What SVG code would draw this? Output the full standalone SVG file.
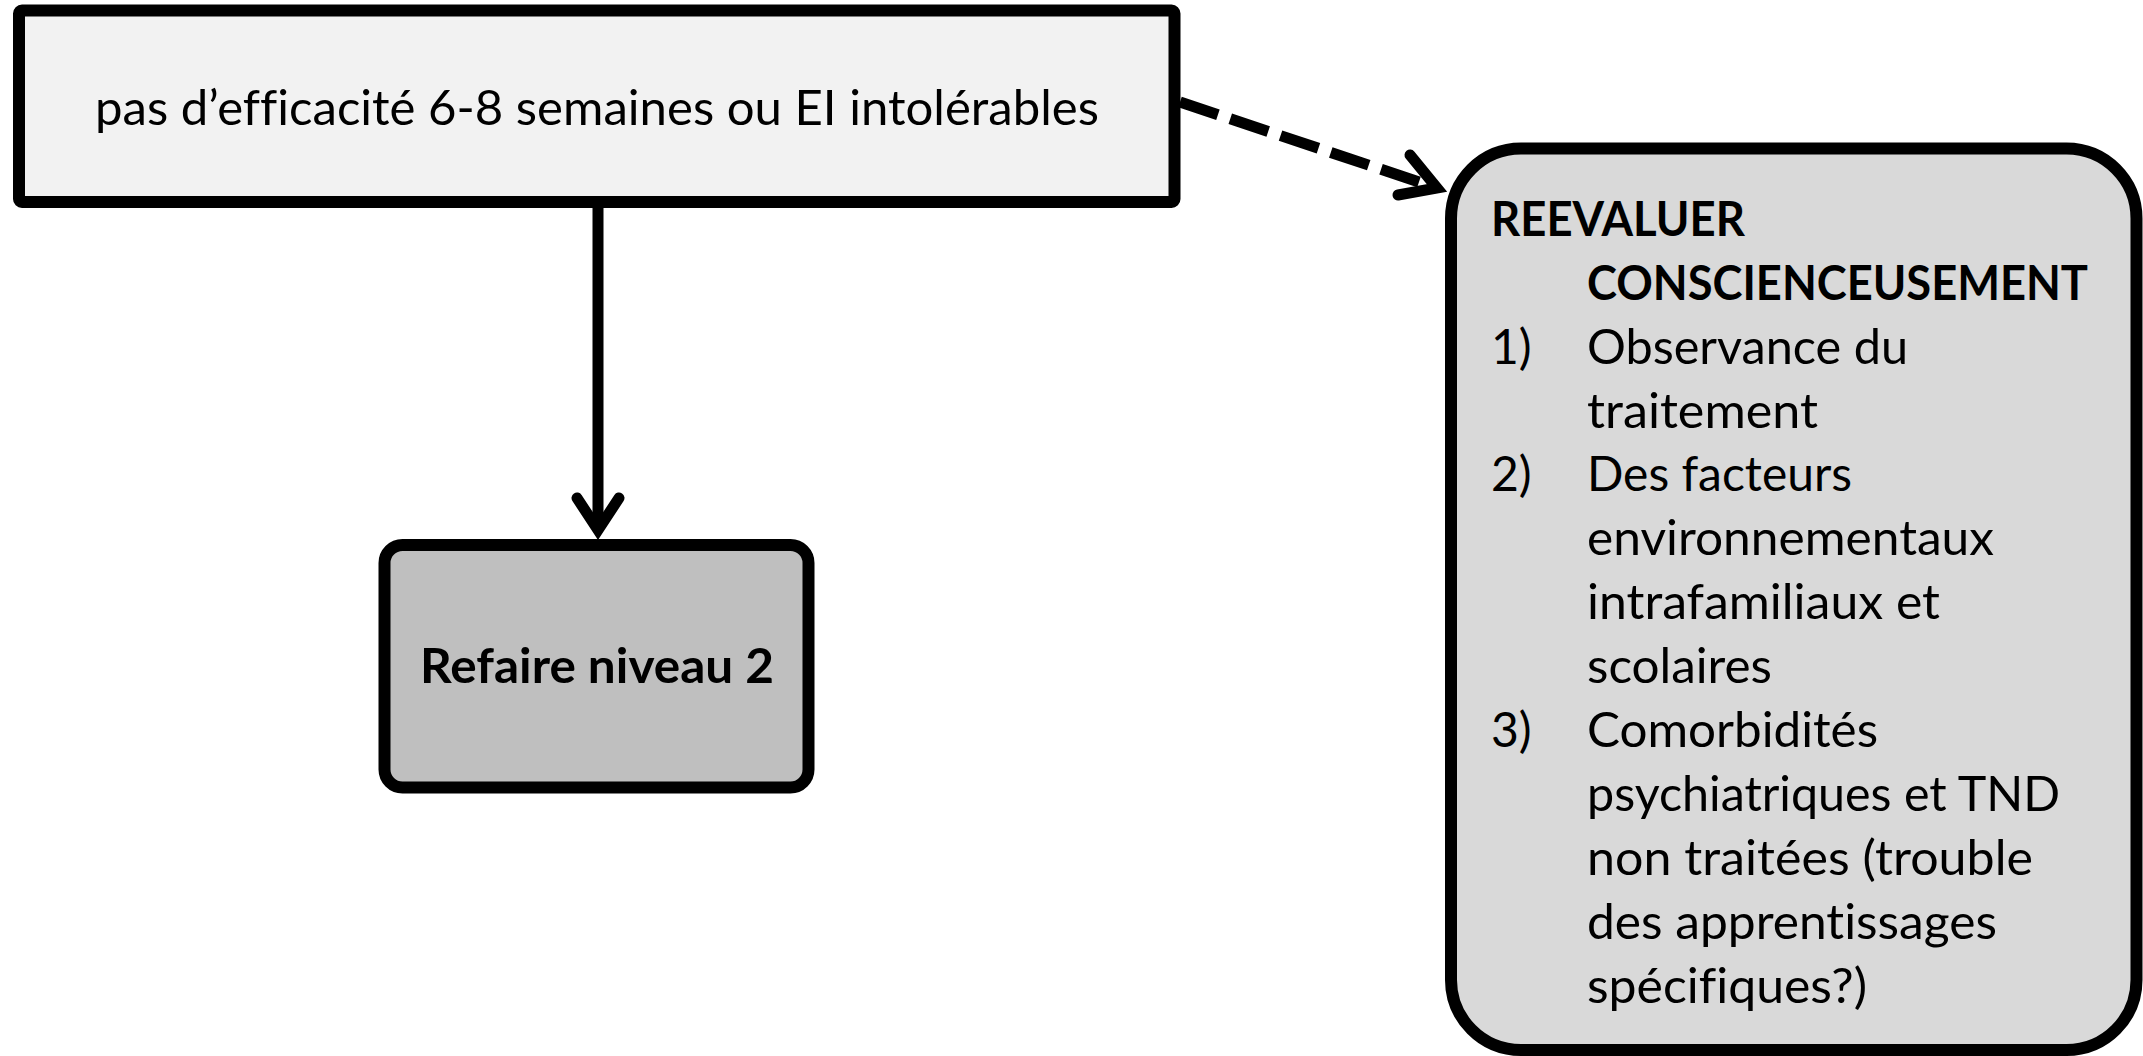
<svg xmlns="http://www.w3.org/2000/svg" width="2143" height="1056" viewBox="0 0 2143 1056">
<style>
.box{stroke:#000;stroke-width:12}
.t{font-family:Lato,"Open Sans","Liberation Sans",sans-serif;font-size:48px;fill:#000;font-variant-ligatures:none;font-feature-settings:"liga" 0,"dlig" 0,"clig" 0}
.b{font-weight:bold}
.c{fill:none;stroke:#000;stroke-width:11}
.h{fill:none;stroke:#000;stroke-width:11;stroke-linecap:round;stroke-linejoin:miter;stroke-miterlimit:10}
</style>
<rect width="2143" height="1056" fill="#fff"/>
<g id="connectors">
<line class="c" x1="598" y1="202" x2="598" y2="530"/>
<polyline class="h" points="577,498 598,530 619,498"/>
<line class="c" x1="1180" y1="102" x2="1437" y2="188" stroke-dasharray="40 13"/>
<polyline class="h" points="1410,155 1437,188 1398,195"/>
</g>
<g id="node-top">
<rect class="box" x="19" y="10.5" width="1155.5" height="191.5" rx="3" fill="#f2f2f2"/>
<text class="t" x="597" y="125" text-anchor="middle" textLength="1004" lengthAdjust="spacingAndGlyphs">pas d’efficacité 6-8 semaines ou EI intolérables</text>
</g>
<g id="node-refaire">
<rect class="box" x="384.5" y="545" width="424" height="242.5" rx="18" fill="#bfbfbf"/>
<text class="t b" x="597" y="683" text-anchor="middle" textLength="354" lengthAdjust="spacingAndGlyphs">Refaire niveau 2</text>
</g>
<g id="node-reevaluer">
<rect class="box" x="1451" y="148.5" width="685.5" height="901.5" rx="70" fill="#d9d9d9"/>
<text class="t b" x="1491" y="236" textLength="254" lengthAdjust="spacingAndGlyphs">REEVALUER</text>
<text class="t b" x="1587" y="300" textLength="501" lengthAdjust="spacingAndGlyphs">CONSCIENCEUSEMENT</text>
<text class="t" x="1491" y="364">1)</text>
<text class="t" x="1587" y="364" textLength="321" lengthAdjust="spacingAndGlyphs">Observance du</text>
<text class="t" x="1587" y="428" textLength="231" lengthAdjust="spacingAndGlyphs">traitement</text>
<text class="t" x="1491" y="491">2)</text>
<text class="t" x="1587" y="491" textLength="265" lengthAdjust="spacingAndGlyphs">Des facteurs</text>
<text class="t" x="1587" y="555" textLength="407" lengthAdjust="spacingAndGlyphs">environnementaux</text>
<text class="t" x="1587" y="619" textLength="353" lengthAdjust="spacingAndGlyphs">intrafamiliaux et</text>
<text class="t" x="1587" y="683" textLength="185" lengthAdjust="spacingAndGlyphs">scolaires</text>
<text class="t" x="1491" y="747">3)</text>
<text class="t" x="1587" y="747" textLength="291" lengthAdjust="spacingAndGlyphs">Comorbidités</text>
<text class="t" x="1587" y="811" textLength="473" lengthAdjust="spacingAndGlyphs">psychiatriques et TND</text>
<text class="t" x="1587" y="875" textLength="446" lengthAdjust="spacingAndGlyphs">non traitées (trouble</text>
<text class="t" x="1587" y="939" textLength="410" lengthAdjust="spacingAndGlyphs">des apprentissages</text>
<text class="t" x="1587" y="1003" textLength="280" lengthAdjust="spacingAndGlyphs">spécifiques?)</text>
</g>
</svg>
